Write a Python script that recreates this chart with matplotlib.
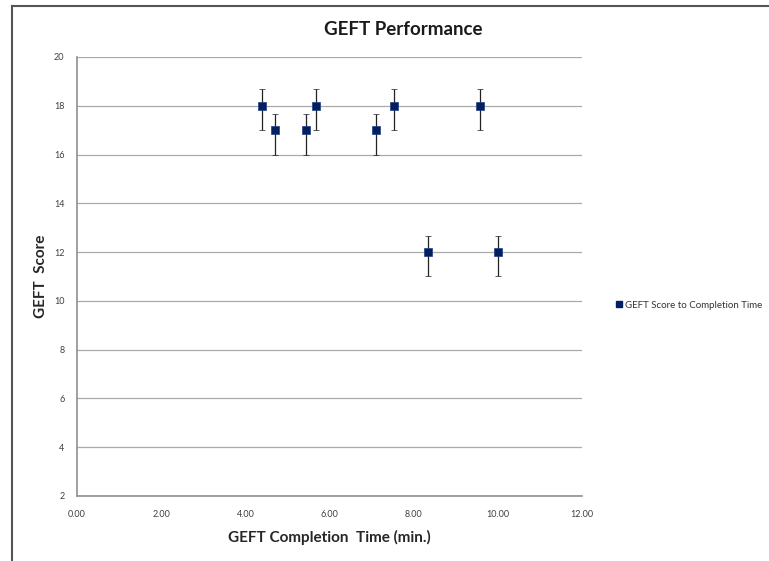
import matplotlib.pyplot as plt
from matplotlib.lines import Line2D

plt.rcParams['font.family'] = ['Lato', 'DejaVu Sans']

# data
times = [4.40, 4.70, 5.44, 5.68, 7.10, 7.53, 8.34, 9.58, 10.0]
scores = [18, 17, 17, 18, 17, 18, 12, 18, 12]
err_low = [1.0] * 9
err_high = [0.68] * 9
x_ticks = [0, 2, 4, 6, 8, 10, 12]
y_ticks = [2, 4, 6, 8, 10, 12, 14, 16, 18, 20]

fig = plt.figure(figsize=(7.69, 5.61), dpi=100)
ax = fig.add_axes([0.1001, 0.1159, 0.657, 0.7825])

ax.errorbar(times, scores, yerr=[err_low, err_high], fmt='s', color='#002060',
            ecolor='#222222', elinewidth=0.9, capsize=2.5, capthick=0.9,
            markersize=5.8, markeredgecolor='#1f3f80', markeredgewidth=0.5,
            zorder=3)

ax.set_xlim(0, 12)
ax.set_ylim(2, 20)
ax.set_xticks(x_ticks)
ax.set_xticklabels([f'{t:.2f}' for t in x_ticks])
ax.set_yticks(y_ticks)
ax.tick_params(length=0, labelsize=6.5, labelcolor='#404040')
ax.tick_params(axis='x', pad=10)
ax.tick_params(axis='y', pad=9)
ax.grid(axis='y', color='#aaaaaa', linewidth=0.9)
for s in ['top', 'right']:
    ax.spines[s].set_visible(False)
for s in ['left', 'bottom']:
    ax.spines[s].set_color('#909090')
    ax.spines[s].set_linewidth(1.2)

ax.set_xlabel('GEFT Completion  Time (min.)', fontsize=11, fontweight='bold',
              color='#262626', labelpad=8)
ax.set_ylabel('GEFT  Score', fontsize=11, fontweight='bold', color='#262626',
              labelpad=4)

fig.text(0.524, 0.947, 'GEFT Performance', ha='center', va='center',
         fontsize=13.5, fontweight='bold', color='#1a1a1a')

handle = Line2D([], [], marker='s', linestyle='none', color='#002060',
                markersize=5)
fig.legend([handle], ['GEFT Score to Completion Time'], loc='center left',
           bbox_to_anchor=(0.787, 0.456), frameon=False, fontsize=7,
           handletextpad=0.1, handlelength=1.0, labelcolor='#333333')

# outer frame of the chart area
fig.add_artist(Line2D([0.0156, 0.0156], [0.0, 0.989], transform=fig.transFigure,
                      color='#555555', linewidth=1.5))
fig.add_artist(Line2D([0.0156, 1.0], [0.989, 0.989], transform=fig.transFigure,
                      color='#555555', linewidth=1.5))

fig.savefig('out.png', dpi=100)
